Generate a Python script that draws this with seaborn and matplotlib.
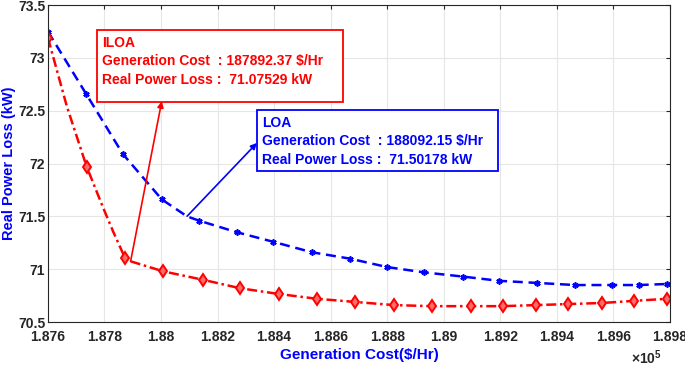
import seaborn as sns
import matplotlib.pyplot as plt
import matplotlib.ticker as mticker
from matplotlib.patches import Rectangle
import pandas as pd

# ILOA curve (red) - marker points and extra points
iloa_cost = [187600, 187667, 187737, 187794, 187830, 187872, 187892, 188007, 188148,
             188279, 188417, 188551, 188686, 188824, 188958, 189096, 189209, 189326,
             189440, 189560, 189672, 189790]
iloa_loss = [73.19, 72.54, 71.97, 71.59, 71.36, 71.11, 71.075, 70.98, 70.90,
             70.82, 70.765, 70.72, 70.69, 70.66, 70.65, 70.65, 70.65, 70.66,
             70.67, 70.68, 70.70, 70.72]
iloa_marker_idx = [0, 2, 5, 7, 8, 9, 10, 11, 12, 13, 14, 15, 16, 17, 18, 19, 20, 21]

# LOA curve (blue)
loa_cost = [187600, 187735, 187865, 188003, 188092, 188134, 188268, 188396, 188534,
            188668, 188800, 188930, 189068, 189195, 189330, 189464, 189595, 189690,
            189790]
loa_loss = [73.25, 72.66, 72.09, 71.66, 71.50, 71.46, 71.35, 71.26, 71.16,
            71.10, 71.02, 70.97, 70.93, 70.89, 70.87, 70.85, 70.85, 70.85,
            70.86]
loa_marker_idx = [0, 1, 2, 3, 5, 6, 7, 8, 9, 10, 11, 12, 13, 14, 15, 16, 17, 18]

# best solutions marked with text boxes
iloa_best = (187892.37, 71.07529)
loa_best = (188092.15, 71.50178)

xticks = [187600, 187800, 188000, 188200, 188400, 188600, 188800, 189000,
          189200, 189400, 189600, 189800]
yticks = [70.5, 71, 71.5, 72, 72.5, 73, 73.5]

iloa = pd.DataFrame({'cost': iloa_cost, 'loss': iloa_loss})
loa = pd.DataFrame({'cost': loa_cost, 'loss': loa_loss})

sns.set_style('white')
plt.rcParams['font.family'] = ['Liberation Sans', 'DejaVu Sans']
plt.rcParams['font.weight'] = 'bold'
plt.rcParams['mathtext.fontset'] = 'custom'
plt.rcParams['mathtext.rm'] = 'Liberation Sans'
plt.rcParams['mathtext.bf'] = 'Liberation Sans:bold'

fig = plt.figure(figsize=(6.85, 3.68), dpi=100)
ax = fig.add_axes([0.070, 0.125, 0.908, 0.861])

sns.lineplot(data=loa, x='cost', y='loss', sort=False, estimator=None, ax=ax,
             color='blue', lw=1.8, linestyle=(0, (4, 2.3)))
ax.plot(loa['cost'].iloc[loa_marker_idx], loa['loss'].iloc[loa_marker_idx],
        ls='none', marker=(6, 2, 0), ms=4.5, mec='blue', mew=1.2)

sns.lineplot(data=iloa, x='cost', y='loss', sort=False, estimator=None, ax=ax,
             color='red', lw=1.8, linestyle=(0, (4, 1.5, 1, 1.5)))
ax.plot(iloa['cost'].iloc[iloa_marker_idx], iloa['loss'].iloc[iloa_marker_idx],
        ls='none', marker='d', ms=6, mfc='#ff6a6a', mec='red', mew=1.4)

ax.set_xlim(187600, 189800)
ax.set_ylim(70.5, 73.5)
ax.set_xticks(xticks)
ax.set_yticks(yticks)
ax.xaxis.set_major_formatter(mticker.FuncFormatter(lambda v, p: f'{v / 1e5:g}'))
ax.yaxis.set_major_formatter(mticker.FuncFormatter(lambda v, p: f'{v:g}'))
ax.grid(True, color='#e6e6e6', lw=0.8)
ax.tick_params(direction='in', length=3, width=0.8, top=True, right=True,
               labelsize=10, colors='#262626')
ax.tick_params(axis='x', pad=6)
ax.tick_params(axis='y', pad=2)
for s in ax.spines.values():
    s.set_color('#262626')
    s.set_linewidth(0.8)
for lab in ax.get_xticklabels() + ax.get_yticklabels():
    lab.set_fontweight('bold')

ax.set_xlabel('Generation Cost($/Hr)', color='blue', fontsize=11, fontweight='bold')
ax.set_ylabel('Real Power Loss (kW)', color='blue', fontsize=10.5, fontweight='bold')
ax.xaxis.set_label_coords(0.5, -0.082)
ax.yaxis.set_label_coords(-0.0506, 0.5)
ax.text(0.987, -0.1435, r'$\times\mathbf{10}^{\mathbf{5}}$', transform=ax.transAxes,
        ha='right', va='bottom', fontsize=10, color='#262626')

# ILOA box
ax.add_patch(Rectangle((0.0788, 0.694), 0.395, 0.227, transform=ax.transAxes,
                       fc='white', ec='red', lw=1.3, zorder=5))
ax.text(0.0868, 0.904, 'ILOA\nGeneration Cost  : 187892.37 $/Hr\nReal Power Loss :  71.07529 kW',
        transform=ax.transAxes, ha='left', va='top', color='red', fontsize=10,
        fontweight='bold', linespacing=1.42, zorder=6)
ax.annotate('', xy=(0.183, 0.697), xycoords='axes fraction', xytext=iloa_best,
            textcoords='data',
            arrowprops=dict(arrowstyle='-|>', color='red', lw=1.2, shrinkA=0, shrinkB=0,
                            mutation_scale=9))

# LOA box
ax.add_patch(Rectangle((0.336, 0.476), 0.3875, 0.193, transform=ax.transAxes,
                       fc='white', ec='blue', lw=1.3, zorder=5))
ax.text(0.344, 0.651, 'LOA\nGeneration Cost  : 188092.15 $/Hr\nReal Power Loss :  71.50178 kW',
        transform=ax.transAxes, ha='left', va='top', color='blue', fontsize=10,
        fontweight='bold', linespacing=1.42, zorder=6)
ax.annotate('', xy=(0.336, 0.565), xycoords='axes fraction', xytext=loa_best,
            textcoords='data',
            arrowprops=dict(arrowstyle='-|>', color='blue', lw=1.2, shrinkA=0, shrinkB=0,
                            mutation_scale=9))

fig.savefig('out.png', dpi=100)
